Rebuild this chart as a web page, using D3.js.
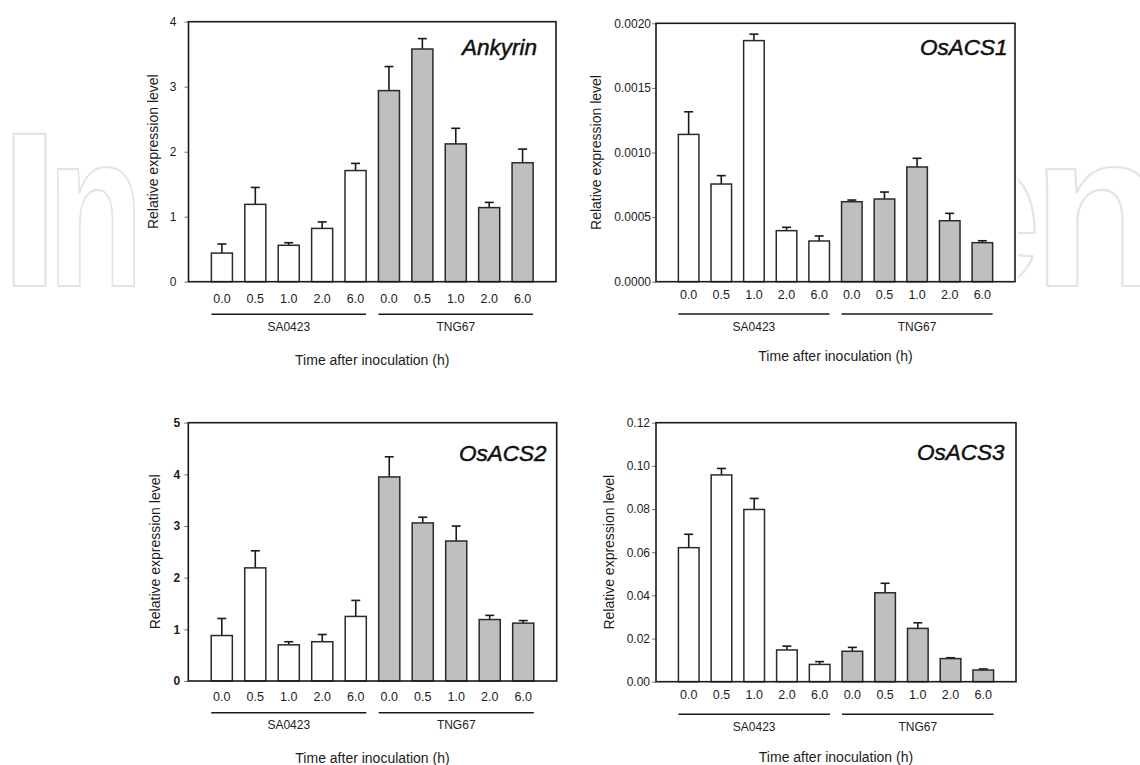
<!DOCTYPE html>
<html>
<head>
<meta charset="utf-8">
<script src="https://cdn.jsdelivr.net/npm/d3@7"></script>
<style>
  body { margin: 0; background: #fff; }
  svg { display: block; font-family: "Liberation Sans", Arial, sans-serif; }
</style>
</head>
<body>
<div id="wrapper"></div>
<script>
const times = ["0.0", "0.5", "1.0", "2.0", "6.0"];
const cultivars = ["SA0423", "TNG67"];
const xAxisTitle = "Time after inoculation (h)";
const yAxisTitle = "Relative expression level";

const ankyrinMean = [0.44, 1.19, 0.56, 0.82, 1.71, 2.94, 3.58, 2.12, 1.14, 1.83];
const ankyrinErr = [0.14, 0.26, 0.04, 0.10, 0.11, 0.37, 0.16, 0.24, 0.08, 0.21];
const ankyrinTicks = [0, 1, 2, 3, 4];

const osacs1Mean = [0.00114, 0.000756, 0.001866, 0.000395, 0.000315, 0.000619, 0.00064, 0.000888, 0.000472, 0.000302];
const osacs1Err = [0.000175, 0.000065, 0.00005, 0.000026, 0.000039, 0.000013, 0.000054, 0.000067, 0.000057, 0.000015];
const osacs1Ticks = [0, 0.0005, 0.001, 0.0015, 0.002];

const osacs2Mean = [0.88, 2.19, 0.70, 0.76, 1.25, 3.95, 3.06, 2.71, 1.19, 1.12];
const osacs2Err = [0.33, 0.33, 0.06, 0.14, 0.31, 0.39, 0.11, 0.29, 0.08, 0.05];
const osacs2Ticks = [0, 1, 2, 3, 4, 5];

const osacs3Mean = [0.0621, 0.0958, 0.0798, 0.0147, 0.0080, 0.0141, 0.0412, 0.0247, 0.0107, 0.0054];
const osacs3Err = [0.0062, 0.0030, 0.0051, 0.0018, 0.0013, 0.0018, 0.0044, 0.0026, 0.0004, 0.0005];
const osacs3Ticks = [0, 0.02, 0.04, 0.06, 0.08, 0.10, 0.12];

const TEXT_COLOR = "#1c1c1c";
const FRAME_COLOR = "#1a1a1a";
const BAR_STROKE = "#2a2a2a";
const TREATED_FILL = "#bfbfbf";
const BAR_FRACTION = 0.63;
const CAP_WIDTH = 9;

// panel layouts (frame box in page pixels)
const panels = [
    { gene: "Ankyrin", mean: ankyrinMean, err: ankyrinErr, ticks: ankyrinTicks, fmt: "d",
      left: 188.5, top: 21.7, right: 556, bottom: 281.7, tickPad: 8, boldTicks: false,
      geneX: 537, geneY: 55, yTitleX: 158, tickDy: 16.5, lineDy: 32.6, groupDy: 45.3, titleDy: 78 },
    { gene: "OsACS1", mean: osacs1Mean, err: osacs1Err, ticks: osacs1Ticks, fmt: ".4f",
      left: 656, top: 23.3, right: 1015, bottom: 281.7, tickPad: 1, boldTicks: false,
      geneX: 1007.5, geneY: 55, yTitleX: 601, tickDy: 12.5, lineDy: 32.3, groupDy: 45, titleDy: 74.5 },
    { gene: "OsACS2", mean: osacs2Mean, err: osacs2Err, ticks: osacs2Ticks, fmt: "d",
      left: 188.3, top: 422.7, right: 556.7, bottom: 681, tickPad: 4, boldTicks: true,
      geneX: 546.5, geneY: 461.5, yTitleX: 160, tickDy: 15.7, lineDy: 31.7, groupDy: 44, titleDy: 77 },
    { gene: "OsACS3", mean: osacs3Mean, err: osacs3Err, ticks: osacs3Ticks, fmt: ".2f",
      left: 656, top: 422.7, right: 1016, bottom: 681.7, tickPad: 2, boldTicks: false,
      geneX: 1004.5, geneY: 460, yTitleX: 614, tickDy: 13.3, lineDy: 32.6, groupDy: 45, titleDy: 75 },
];

const categories = cultivars.flatMap(c => times.map(t => c + "|" + t));

const svg = d3.select("#wrapper")
    .append("svg")
    .attr("width", 1140)
    .attr("height", 765);

// background watermark, only visible at the left and right margins
const clip = svg.append("defs").append("clipPath").attr("id", "wm-clip");
clip.append("rect").attr("x", 0).attr("y", 0).attr("width", 146).attr("height", 765);
clip.append("rect").attr("x", 1018).attr("y", 0).attr("width", 122).attr("height", 765);

const watermark = svg.append("g")
    .attr("clip-path", "url(#wm-clip)")
    .style("font-family", "'Liberation Sans', Arial, sans-serif")
    .style("font-weight", "bold")
    .style("font-size", "220px")
    .attr("fill", "#fff")
    .attr("stroke", "#e4e4e4")
    .attr("stroke-width", 2.2)
    .attr("stroke-linejoin", "round");

watermark.append("text")
    .attr("x", 29.5)
    .attr("y", 286)
    .attr("text-anchor", "middle")
    .text("I");

watermark.append("text")
    .attr("x", 47)
    .attr("y", 286)
    .attr("textLength", 97)
    .attr("lengthAdjust", "spacingAndGlyphs")
    .text("n");

[["e", 981], ["n", 1099]].forEach(([ch, x]) => {
    watermark.append("text")
        .attr("x", x)
        .attr("y", 286)
        .attr("text-anchor", "middle")
        .text(ch);
});

panels.forEach(p => {
    const width = p.right - p.left;
    const height = p.bottom - p.top;

    const g = svg.append("g")
        .attr("transform", `translate(${p.left},${p.top})`);

    const xScale = d3.scalePoint()
        .domain(categories)
        .range([0, width])
        .padding(1);

    const barWidth = xScale.step() * BAR_FRACTION;

    const yScale = d3.scaleLinear()
        .domain([0, d3.max(p.ticks)])
        .range([height, 0]);

    const rows = categories.map((c, i) => ({
        key: c,
        cultivar: c.split("|")[0],
        time: c.split("|")[1],
        mean: p.mean[i],
        err: p.err[i],
    }));

    // y axis
    const yAxis = d3.axisLeft(yScale)
        .tickValues(p.ticks)
        .tickFormat(d3.format(p.fmt))
        .tickSize(4)
        .tickPadding(p.tickPad);

    const yAxisGroup = g.append("g").call(yAxis);
    yAxisGroup.select(".domain").remove();
    yAxisGroup.selectAll(".tick line").attr("stroke", "#777");
    yAxisGroup.selectAll(".tick text")
        .attr("fill", TEXT_COLOR)
        .style("font-size", "12px")
        .style("font-weight", p.boldTicks ? "bold" : "normal");

    // error bars (upper only)
    const errGroup = g.append("g")
        .attr("stroke", "#1a1a1a")
        .attr("stroke-width", 1.6);

    errGroup.selectAll("line.stem")
        .data(rows)
        .join("line")
        .attr("class", "stem")
        .attr("x1", d => xScale(d.key))
        .attr("x2", d => xScale(d.key))
        .attr("y1", d => yScale(d.mean))
        .attr("y2", d => yScale(d.mean + d.err));

    errGroup.selectAll("line.cap")
        .data(rows)
        .join("line")
        .attr("class", "cap")
        .attr("x1", d => xScale(d.key) - CAP_WIDTH / 2)
        .attr("x2", d => xScale(d.key) + CAP_WIDTH / 2)
        .attr("y1", d => yScale(d.mean + d.err))
        .attr("y2", d => yScale(d.mean + d.err));

    // bars
    g.append("g")
        .selectAll("rect")
        .data(rows)
        .join("rect")
        .attr("x", d => xScale(d.key) - barWidth / 2)
        .attr("y", d => yScale(d.mean))
        .attr("width", barWidth)
        .attr("height", d => height - yScale(d.mean))
        .attr("fill", d => d.cultivar === cultivars[0] ? "#fff" : TREATED_FILL)
        .attr("stroke", BAR_STROKE)
        .attr("stroke-width", 1.5);

    // frame
    g.append("rect")
        .attr("width", width)
        .attr("height", height)
        .attr("fill", "none")
        .attr("stroke", FRAME_COLOR)
        .attr("stroke-width", 1.6);

    // gene name
    g.append("text")
        .attr("x", p.geneX - p.left)
        .attr("y", p.geneY - p.top)
        .attr("text-anchor", "end")
        .attr("fill", "#111")
        .attr("stroke", "#111")
        .attr("stroke-width", 0.5)
        .style("font-size", "22.5px")
        .style("font-style", "italic")
        .text(p.gene);

    // time labels
    g.append("g")
        .selectAll("text")
        .data(rows)
        .join("text")
        .attr("x", d => xScale(d.key))
        .attr("y", height + p.tickDy)
        .attr("dy", "0.35em")
        .attr("text-anchor", "middle")
        .attr("fill", TEXT_COLOR)
        .style("font-size", "12.5px")
        .text(d => d.time);

    // cultivar group lines and names
    cultivars.forEach(c => {
        const keys = categories.filter(k => k.startsWith(c + "|"));
        const x0 = xScale(keys[0]) - barWidth / 2;
        const x1 = xScale(keys[keys.length - 1]) + barWidth / 2;

        g.append("line")
            .attr("x1", x0)
            .attr("x2", x1)
            .attr("y1", height + p.lineDy)
            .attr("y2", height + p.lineDy)
            .attr("stroke", "#1a1a1a")
            .attr("stroke-width", 1.5);

        g.append("text")
            .attr("x", (x0 + x1) / 2)
            .attr("y", height + p.groupDy)
            .attr("dy", "0.35em")
            .attr("text-anchor", "middle")
            .attr("fill", "#222")
            .style("font-size", "12px")
            .text(c);
    });

    // axis titles
    g.append("text")
        .attr("x", width / 2)
        .attr("y", height + p.titleDy)
        .attr("dy", "0.35em")
        .attr("text-anchor", "middle")
        .attr("fill", TEXT_COLOR)
        .style("font-size", "14px")
        .text(xAxisTitle);

    g.append("text")
        .attr("transform", `translate(${p.yTitleX - p.left},${height / 2}) rotate(-90)`)
        .attr("text-anchor", "middle")
        .attr("fill", TEXT_COLOR)
        .style("font-size", "14px")
        .text(yAxisTitle);
});
</script>
</body>
</html>
